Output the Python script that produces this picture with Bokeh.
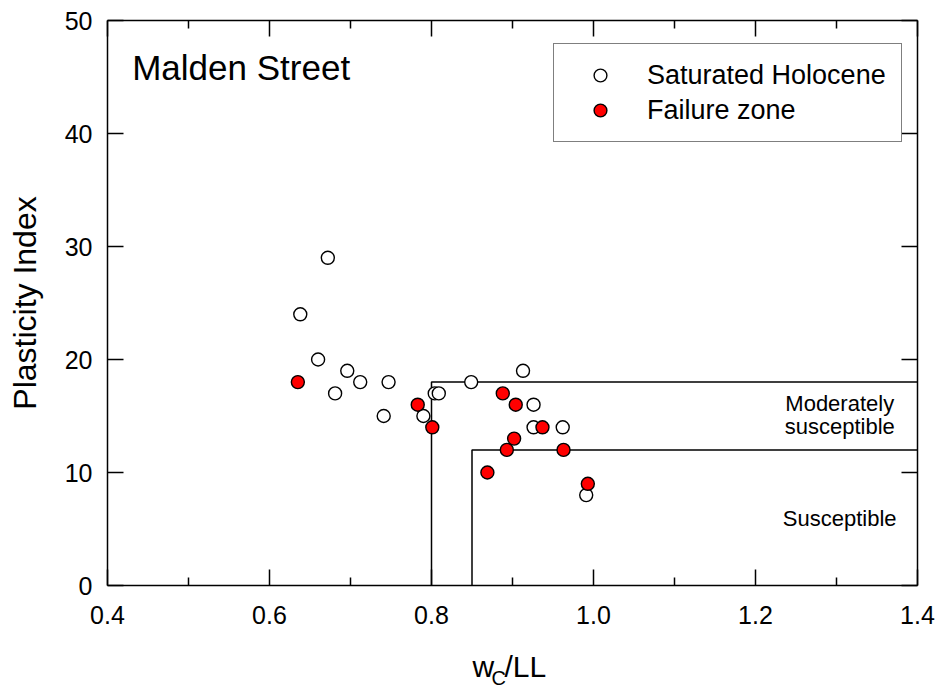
from bokeh.plotting import figure
from bokeh.layouts import column
from bokeh.models import (Range1d, LinearAxis, FixedTicker, NumeralTickFormatter,
                          Label, Legend, LegendItem, CustomLabelingPolicy)
from bokeh.core.properties import value
from bokeh.embed import file_html
from bokeh.resources import INLINE

FONT = "Liberation Sans"

# ---- data ----
holocene_wc = [0.638, 0.660, 0.672, 0.681, 0.696, 0.712, 0.741, 0.747, 0.790,
               0.804, 0.809, 0.849, 0.913, 0.926, 0.926, 0.962, 0.991]
holocene_pi = [24, 20, 29, 17, 19, 18, 15, 18, 15, 17, 17, 18, 19, 16, 14, 14, 8]

failure_wc = [0.635, 0.783, 0.801, 0.869, 0.888, 0.893, 0.902, 0.904, 0.937, 0.963, 0.993]
failure_pi = [18, 16, 14, 10, 17, 12, 13, 16, 14, 12, 9]

# susceptibility criteria boundaries
moderate_x = [0.80, 0.80, 1.40]
moderate_y = [0, 18, 18]
susceptible_x = [0.85, 0.85, 1.40]
susceptible_y = [0, 12, 12]

x_ticks = [0.4, 0.6, 0.8, 1.0, 1.2, 1.4]
x_minor = [0.5, 0.7, 0.9, 1.1, 1.3]
y_ticks = [0, 10, 20, 30, 40, 50]

XR = (0.4, 1.4)
YR = (0, 50)

# ---- main figure ----
p = figure(width=938, height=640, x_range=Range1d(*XR), y_range=Range1d(*YR),
           output_backend="svg", toolbar_location=None,
           min_border_left=107, min_border_right=21, min_border_top=20, min_border_bottom=55)
p.outline_line_color = None
p.xgrid.visible = False
p.ygrid.visible = False
p.background_fill_color = "white"
p.border_fill_color = "white"

no_labels = CustomLabelingPolicy(code="""
for (const i of indices) indices.unset(i)
return indices
""")


def style_axis(ax, labels=True, standoff=15):
    ax.axis_line_color = "black"
    ax.axis_line_width = 1.5
    ax.major_tick_line_color = "black"
    ax.major_tick_line_width = 1.5
    ax.minor_tick_line_color = "black"
    ax.minor_tick_line_width = 1.5
    ax.major_tick_in = 16
    ax.major_tick_out = 0
    ax.minor_tick_in = 8
    ax.minor_tick_out = 0
    ax.major_label_text_font = FONT
    ax.major_label_text_color = "black"
    if labels:
        ax.major_label_text_font_size = "25px"
        ax.major_label_standoff = standoff
    else:
        ax.major_label_text_font_size = "0px"
        ax.major_label_standoff = 0
        ax.major_label_policy = no_labels


xa = p.xaxis[0]
xa.ticker = FixedTicker(ticks=x_ticks, minor_ticks=x_minor)
xa.formatter = NumeralTickFormatter(format="0.0")
style_axis(xa, standoff=20)
xa.axis_label = None

ya = p.yaxis[0]
ya.ticker = FixedTicker(ticks=y_ticks)
style_axis(ya, standoff=15)
ya.axis_label = "Plasticity Index"
ya.axis_label_text_font = FONT
ya.axis_label_text_font_size = "32px"
ya.axis_label_text_font_style = "normal"
ya.axis_label_text_color = "black"
ya.axis_label_standoff = 19

top = LinearAxis(ticker=FixedTicker(ticks=x_ticks, minor_ticks=x_minor))
style_axis(top, labels=False)
p.add_layout(top, "above")
right = LinearAxis(ticker=FixedTicker(ticks=y_ticks))
style_axis(right, labels=False)
p.add_layout(right, "right")

# boundaries
p.line(moderate_x, moderate_y, line_color="black", line_width=1.5)
p.line(susceptible_x, susceptible_y, line_color="black", line_width=1.5)

r_open = p.scatter(holocene_wc, holocene_pi, size=13, marker="circle",
                   fill_color="white", line_color="black", line_width=1.4)
r_fail = p.scatter(failure_wc, failure_pi, size=13, marker="circle",
                   fill_color="#ff0000", line_color="black", line_width=1.4)

legend = Legend(items=[LegendItem(label="Saturated Holocene", renderers=[r_open]),
                       LegendItem(label="Failure zone", renderers=[r_fail])],
                location=(446, 443), margin=0, padding=15, spacing=3,
                glyph_width=62, glyph_height=32, label_standoff=16,
                label_text_font=FONT, label_text_font_size="27px", label_text_color="black",
                border_line_color="black", border_line_width=1.5,
                background_fill_color="white", background_fill_alpha=1.0)
p.add_layout(legend)


def lab(x, y, text, size, align="left"):
    p.add_layout(Label(x=x, y=y, text=text, text_font=FONT, text_font_size=size,
                       text_align=align, text_baseline="alphabetic", text_color="black"))


lab(0.4305, 45.85, "Malden Street", "35px")
lab(1.304, 16.15, "Moderately", "22px", "center")
lab(1.304, 14.1, "susceptible", "22px", "center")
lab(1.304, 5.9, "Susceptible", "22px", "center")

# ---- strip below the plot for the x-axis title  w_C/LL ----
p2 = figure(width=938, height=48, x_range=Range1d(*XR), y_range=Range1d(0, 48),
            output_backend="svg", toolbar_location=None,
            x_axis_location=None, y_axis_location=None,
            min_border_left=107, min_border_right=21, min_border_top=0, min_border_bottom=0)
p2.outline_line_color = None
p2.xgrid.visible = False
p2.ygrid.visible = False
p2.border_fill_color = "white"
p2.background_fill_color = "white"

p2.text(x=[0.8506, 0.8901], y=[22.5, 22.5], text=["w", "/LL"],
        text_font=value(FONT), text_font_size="30px", text_baseline="alphabetic",
        text_align="left", text_color="black")
p2.text(x=[0.8741], y=[11.0], text=["C"],
        text_font=value(FONT), text_font_size="20px", text_baseline="alphabetic",
        text_align="left", text_color="black")

layout = column(p, p2, spacing=0)
open("out.html", "w").write(file_html(layout, INLINE))
